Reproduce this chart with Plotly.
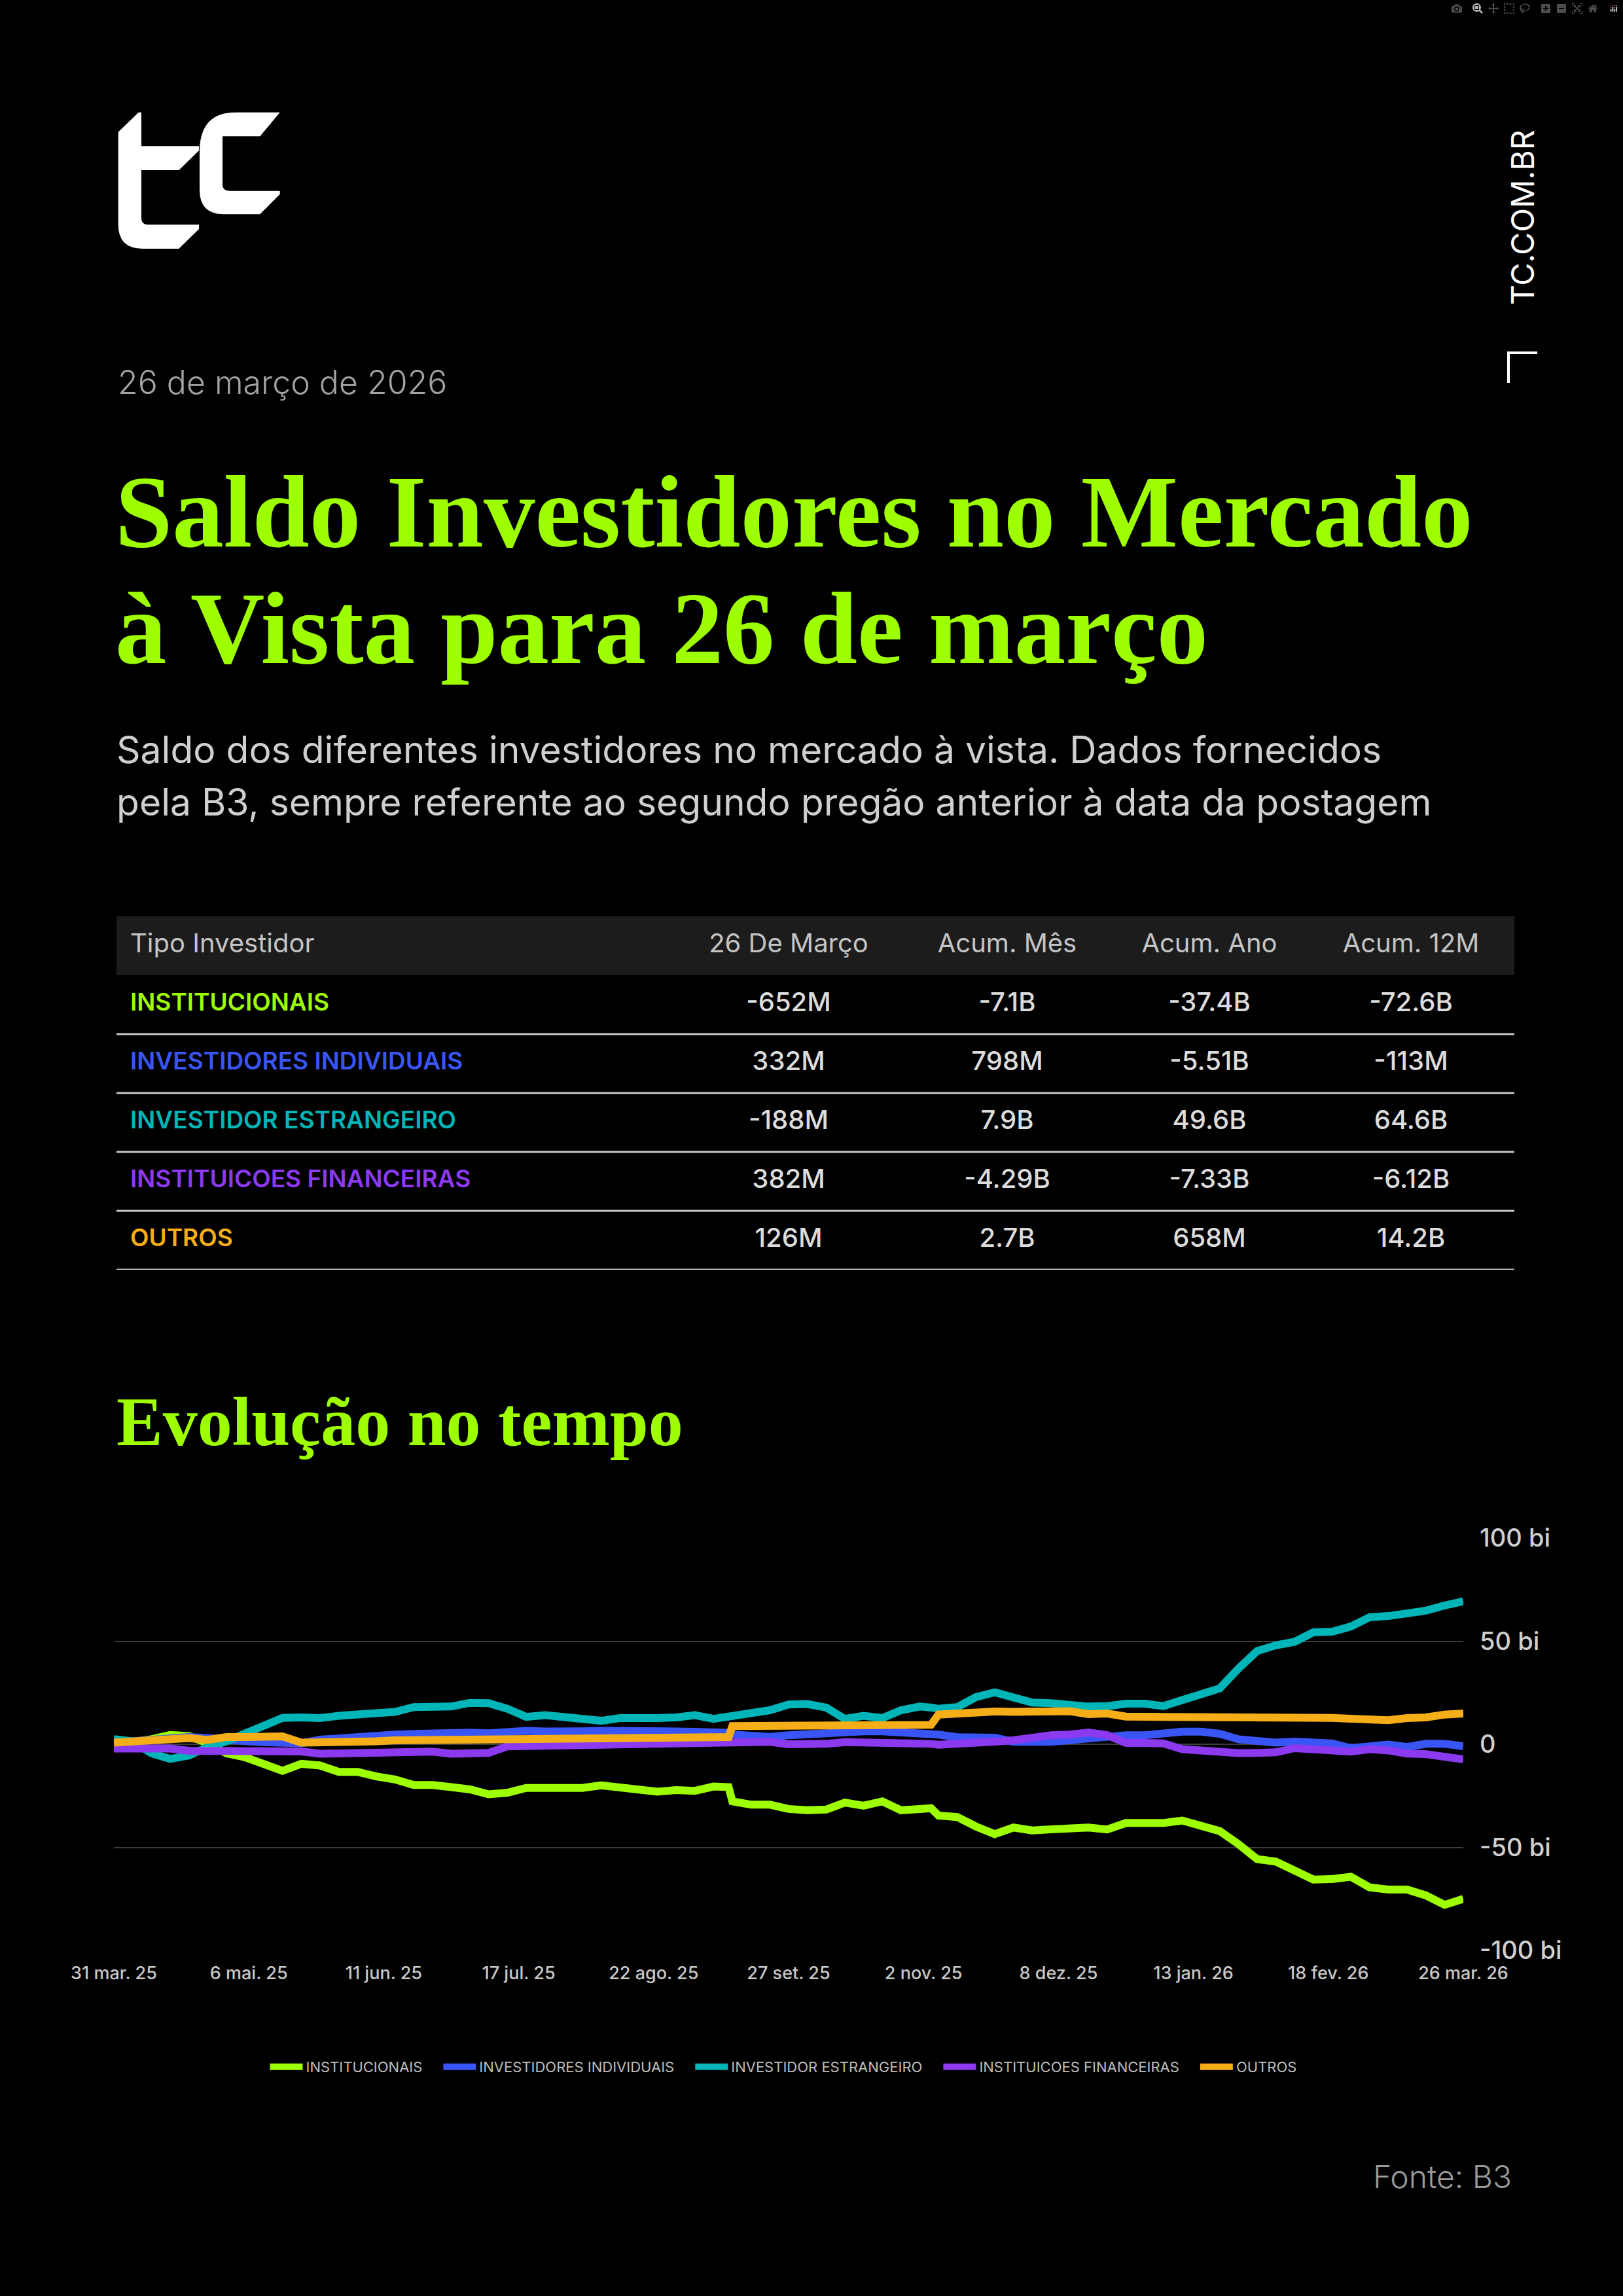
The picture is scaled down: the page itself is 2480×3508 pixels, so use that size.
import plotly.graph_objects as go
import pandas as pd

# ---- dados ----
day_offsets = [0, 5, 10, 15, 20, 25, 30, 35, 40, 45, 50, 55, 60, 65, 70, 75, 80, 85, 90, 95,
               100, 105, 110, 115, 120, 125, 130, 135, 140, 145, 150, 155, 160, 164,
               165, 170, 175, 180, 185, 190, 195, 200, 205, 210, 215, 218,
               220, 225, 230, 235, 240, 245, 250, 255, 260, 265, 270, 275, 280, 285, 290,
               295, 300, 305, 310, 315, 320, 325, 330, 335, 340, 345, 350, 355, 360]
dates = pd.Timestamp("2025-03-31") + pd.to_timedelta(day_offsets, unit="D")

institucionais = [0, 0.8, 2.4, 4.5, 4, 0.6, -4.4, -6.3, -9.7, -12.9, -9.5, -10.3, -13.4, -13.4,
                  -15.6, -17.1, -19.8, -19.8, -20.8, -21.9, -24.3, -23.5, -21.2, -21.2, -21.2,
                  -21.2, -19.9, -21.2, -22.6, -23, -22.2, -22.6, -20.5, -20.8,
                  -27.7, -29.3, -29.3, -31.4, -32, -31.7, -28.3, -29.8, -27.7, -32, -31.4, -31.0,
                  -34.6, -35.3, -39.9, -43.6, -40.4, -41.8, -41.3, -41, -40.4, -41.3, -38.2, -38.2,
                  -38.2, -37, -39.3, -42.1, -48.4, -55.7, -56.9, -61.4, -65.6, -65.4, -64.3, -69.4,
                  -70.5, -70.5, -73.3, -77.9, -75]
individuais = [0.8, 1.5, 2.5, 3.2, 3.5, 3, 2, 1.5, 1, 0.5, 0.5, 2.2, 3, 4, 4.5, 4.7, 5, 5.5, 5.6,
               5.6, 5.3, 6, 6.5, 6.2, 5.9, 6.3, 6.5, 6.6, 6.6, 7, 6.2, 6, 5.9, 5.6,
               4.7, 4.2, 3.6, 4.4, 5, 5.9, 6.3, 6.3, 6.3, 6, 5.2, 5.0,
               4.7, 3.4, 3.2, 3.2, 1.2, 0.9, 1.2, 2, 2.9, 4.4, 4.4, 4.4, 5.7, 6.1, 6.1, 5.1, 2.4,
               1.5, 0.8, 1.3, 0.4, 0.4, -1.9, -1.3, -0.2, -1.3, 0.2, 0.2, -1]
estrangeiro = [2.5, 1.4, -4.4, -7.1, -5.5, -1.3, 1.4, 5.1, 9.3, 12.8, 13, 12.7, 13.8, 14.4, 15.7,
               15.7, 18, 17.8, 18.3, 20.1, 19.9, 17.2, 13.3, 14.1, 13.5, 12, 11.4, 12.7, 12.3,
               12.7, 13, 14.1, 12.3, 13.5,
               14.4, 15.7, 16.5, 19.3, 19.5, 17.8, 12.3, 13.8, 12.7, 16.5, 18.3, 17.8,
               17.2, 18, 22.9, 25.2, 22.2, 20.2, 19.9, 18.8, 18.3, 18.5, 19.7, 19.7, 18.5, 21.4,
               24.2, 27.1, 36.7, 45.2, 48, 49.7, 54.3, 54.6, 57.1, 61.6, 62.2, 63.7, 64.8, 67.3, 69.3]
financeiras = [-2.1, -2.1, -1.9, -2.1, -3.2, -3.2, -2.9, -3.2, -3.6, -3.1, -3.5, -4.6, -4.4, -4.4,
               -4.2, -4.2, -3.6, -3.6, -4.6, -4.6, -4.2, -1, -0.8, -0.6, -0.7, 0, 0, -0.2, 0.6,
               0.6, 0.8, 0.8, 1, 1.1,
               1.1, 1.4, 1.2, 0, 0, 0.2, 1, 1, 0.2, 0.8, 0.5, 0.2,
               -0.2, 0.6, 1, 1.3, 1.9, 3.6, 4.4, 4.7, 5.7, 4.4, 0.6, 0.6, 0.4, -2.4, -3.2, -3.9,
               -4.3, -4.2, -3.9, -1.9, -2.8, -3, -3.6, -2.4, -3, -4.5, -4.8, -6.4, -7.3]
outros = [0.8, 1.3, 1.8, 2.4, 3, 2.1, 3.5, 3.5, 3.5, 3.8, 0.8, 0.8, 1, 1.2, 1.4, 1.9, 2, 2.2, 2.2,
          2.2, 3, 2.7, 2.8, 2.9, 2.8, 2.9, 3, 3.1, 3.2, 3.2, 3.3, 3.4, 3.4, 3.5,
          8.8, 8.9, 9, 9, 9.1, 9.1, 9.2, 9.2, 9.3, 9.3, 9.3, 9.4,
          14.4, 15, 15.7, 15.9, 15.7, 15.7, 15.7, 16, 14.6, 14.9, 13.4, 13.4, 13, 12.9, 13.2,
          13.2, 13.1, 13.1, 13, 13, 13, 12.8, 12.4, 12, 11.7, 12.7, 13, 14.4, 14.9]

nomes = ["INSTITUCIONAIS", "INVESTIDORES INDIVIDUAIS", "INVESTIDOR ESTRANGEIRO",
         "INSTITUICOES FINANCEIRAS", "OUTROS"]
cores = ["#9dff00", "#3a55f5", "#00b5b8", "#8b3aef", "#f5ad18"]
series = [institucionais, individuais, estrangeiro, financeiras, outros]

cabecalho = ["Tipo Investidor", "26 De Março", "Acum. Mês", "Acum. Ano", "Acum. 12M"]
col_dia = ["-652M", "332M", "-188M", "382M", "126M"]
col_mes = ["-7.1B", "798M", "7.9B", "-4.29B", "2.7B"]
col_ano = ["-37.4B", "-5.51B", "49.6B", "-7.33B", "658M"]
col_12m = ["-72.6B", "-113M", "64.6B", "-6.12B", "14.2B"]

tick_datas = ["2025-03-31", "2025-05-06", "2025-06-11", "2025-07-17", "2025-08-22", "2025-09-27",
              "2025-11-02", "2025-12-08", "2026-01-13", "2026-02-18", "2026-03-26"]
tick_textos = ["31 mar. 25", "6 mai. 25", "11 jun. 25", "17 jul. 25", "22 ago. 25", "27 set. 25",
               "2 nov. 25", "8 dez. 25", "13 jan. 26", "18 fev. 26", "26 mar. 26"]
y_ticks = [-100, -50, 0, 50, 100]
y_textos = ["-100 bi", "-50 bi", "0", "50 bi", "100 bi"]

# ---- layout helpers (pixels -> paper) ----
W, H = 2480, 3508
SANS = "Inter"
SERIF = "Liberation Serif"


def px(x):
    return x / W


def py(y):
    return 1 - y / H


def path(cmds):
    out = []
    for c, pts in cmds:
        s = c
        for (x, y) in pts:
            s += f" {px(x):.5f},{py(y):.5f}"
        out.append(s)
    return " ".join(out) + " Z"


fig = go.Figure()

# linhas
for nome, cor, vals in zip(nomes, cores, series):
    fig.add_trace(go.Scatter(
        x=dates, y=vals, name=nome + "\u2003", mode="lines",
        line=dict(color=cor, width=12),
        hoverinfo="skip",
    ))

# tabela
linhas_tab = [cabecalho[0]] + nomes
col_pos = [21, 1027, 1361, 1670, 1978]
fig.add_trace(go.Scatter(
    x=col_pos, y=[cabecalho[0]] * 5, text=cabecalho, mode="text",
    textposition=["middle right"] + ["middle center"] * 4,
    textfont=dict(family=SANS, size=40, color="#c4c4c4", weight=400),
    xaxis="x2", yaxis="y2", showlegend=False, hoverinfo="skip", cliponaxis=False,
))
fig.add_trace(go.Scatter(
    x=[col_pos[0]] * 5, y=nomes, text=nomes, mode="text", textposition="middle right",
    textfont=dict(family=SANS, size=37, color=cores, weight=600),
    xaxis="x2", yaxis="y2", showlegend=False, hoverinfo="skip", cliponaxis=False,
))
for pos, col in zip(col_pos[1:], [col_dia, col_mes, col_ano, col_12m]):
    fig.add_trace(go.Scatter(
        x=[pos] * 5, y=nomes, text=col, mode="text", textposition="middle center",
        textfont=dict(family=SANS, size=40, color="#dcdcdc", weight=500),
        xaxis="x2", yaxis="y2", showlegend=False, hoverinfo="skip", cliponaxis=False,
    ))

shapes = [
    dict(type="rect", xref="x2 domain", yref="y2", x0=0, x1=1, y0=-0.5, y1=0.5,
         fillcolor="#1c1c1c", line=dict(width=0), layer="below"),
]
for i in range(1, len(linhas_tab)):
    shapes.append(dict(type="line", xref="x2 domain", yref="y2", x0=0, x1=1,
                       y0=i + 0.5, y1=i + 0.5, line=dict(color="#c8c8c8", width=3)))

# logo tc
logo_t = [("M", [(180.7, 201.7)]), ("L", [(211.7, 171.7)]), ("L", [(216, 171.7)]),
          ("L", [(216, 223.3)]), ("L", [(304, 223.3)]), ("L", [(304, 230)]),
          ("L", [(273.3, 260)]), ("L", [(216, 260)]), ("L", [(216, 333)]),
          ("Q", [(216, 343.3), (226.7, 343.3)]), ("L", [(304, 343.3)]), ("L", [(304, 350)]),
          ("L", [(273.3, 380)]), ("L", [(218.3, 380)]), ("Q", [(180.7, 380), (180.7, 343.3)])]
logo_c = [("M", [(427.7, 171.7)]), ("L", [(397.3, 208.3)]), ("L", [(340, 208.3)]),
          ("L", [(340, 281.7)]), ("Q", [(340, 291.7), (351.7, 291.7)]), ("L", [(427.7, 291.7)]),
          ("L", [(427.7, 296.7)]), ("L", [(397.3, 327.3)]), ("L", [(341.7, 327.3)]),
          ("Q", [(305, 327.3), (305, 290)]), ("L", [(305, 232)]),
          ("Q", [(305, 171.7), (360, 171.7)])]
for p in (logo_t, logo_c):
    shapes.append(dict(type="path", xref="paper", yref="paper", path=path(p),
                       fillcolor="white", line=dict(width=0)))
# canto ao lado de TC.COM.BR
shapes.append(dict(type="path", xref="paper", yref="paper",
                   path=f"M {px(2305):.5f},{py(585):.5f} L {px(2305):.5f},{py(539):.5f} "
                        f"L {px(2349):.5f},{py(539):.5f}",
                   line=dict(color="white", width=4)))

annotations = [
    dict(text="26 de março de 2026", x=px(178), y=py(584), xanchor="left", yanchor="middle",
         font=dict(family=SANS, size=50, color="#a3a3a3", weight=300)),
    dict(text="Saldo Investidores no Mercado", x=px(174), y=py(782), xanchor="left",
         yanchor="middle", font=dict(family=SERIF, size=157, color="#9dff00", weight=700)),
    dict(text="à Vista para 26 de março", x=px(174), y=py(960), xanchor="left",
         yanchor="middle", font=dict(family=SERIF, size=157, color="#9dff00", weight=700)),
    dict(text="Saldo dos diferentes investidores no mercado à vista. Dados fornecidos",
         x=px(176), y=py(1145), xanchor="left", yanchor="middle",
         font=dict(family=SANS, size=57, color="#cfcfcf", weight=400)),
    dict(text="pela B3, sempre referente ao segundo pregão anterior à data da postagem",
         x=px(176), y=py(1225), xanchor="left", yanchor="middle",
         font=dict(family=SANS, size=57, color="#cfcfcf", weight=400)),
    dict(text="Evolução no tempo", x=px(176), y=py(2172), xanchor="left", yanchor="middle",
         font=dict(family=SERIF, size=106, color="#9dff00", weight=700)),
    dict(text="TC.COM.BR", x=px(2326), y=py(332), xanchor="center", yanchor="middle",
         textangle=-90, font=dict(family=SANS, size=48, color="white", weight=400)),
    dict(text="Fonte: B3", x=px(2312), y=py(3325), xanchor="right", yanchor="middle",
         font=dict(family=SANS, size=48, color="#9a9a9a", weight=300)),
]
for a in annotations:
    a.update(xref="paper", yref="paper", showarrow=False)

fig.update_layout(
    width=W, height=H,
    margin=dict(l=0, r=0, t=0, b=0, pad=0, autoexpand=False),
    paper_bgcolor="black", plot_bgcolor="black",
    shapes=shapes, annotations=annotations,
    xaxis=dict(
        domain=[px(174), px(2236)], type="date",
        range=["2025-03-31", "2026-03-26"],
        tickvals=tick_datas, ticktext=tick_textos,
        tickfont=dict(family=SANS, size=27, color="#c8c8c8", weight=500),
        showgrid=False, zeroline=False, showline=False, ticks="",
        ticklabelstandoff=16, anchor="y", automargin=False,
    ),
    yaxis=dict(
        domain=[py(2980), py(2350)], range=[-100, 100], side="right",
        tickvals=y_ticks, ticktext=y_textos,
        tickfont=dict(family=SANS, size=38, color="#cfcfcf", weight=500),
        showgrid=True, gridcolor="#3c3c3c", gridwidth=2,
        zeroline=True, zerolinecolor="#3c3c3c", zerolinewidth=2,
        ticks="", ticklabelstandoff=24, anchor="x", automargin=False,
    ),
    xaxis2=dict(domain=[px(178), px(2314)], range=[0, 2136], visible=False, anchor="y2",
                fixedrange=True, automargin=False),
    yaxis2=dict(domain=[py(1940), py(1400)], type="category", categoryarray=linhas_tab,
                categoryorder="array", range=[len(linhas_tab) - 0.5, -0.5], visible=False,
                anchor="x2", fixedrange=True, automargin=False),
    legend=dict(
        orientation="h", x=px(1208), xanchor="center", y=py(3158), yanchor="middle",
        font=dict(family=SANS, size=22, color="#bdbdbd"),
        bgcolor="rgba(0,0,0,0)", itemwidth=50,
    ),
    showlegend=True,
)

fig.write_html("out.html", post_script="document.body.style.margin='0';")
